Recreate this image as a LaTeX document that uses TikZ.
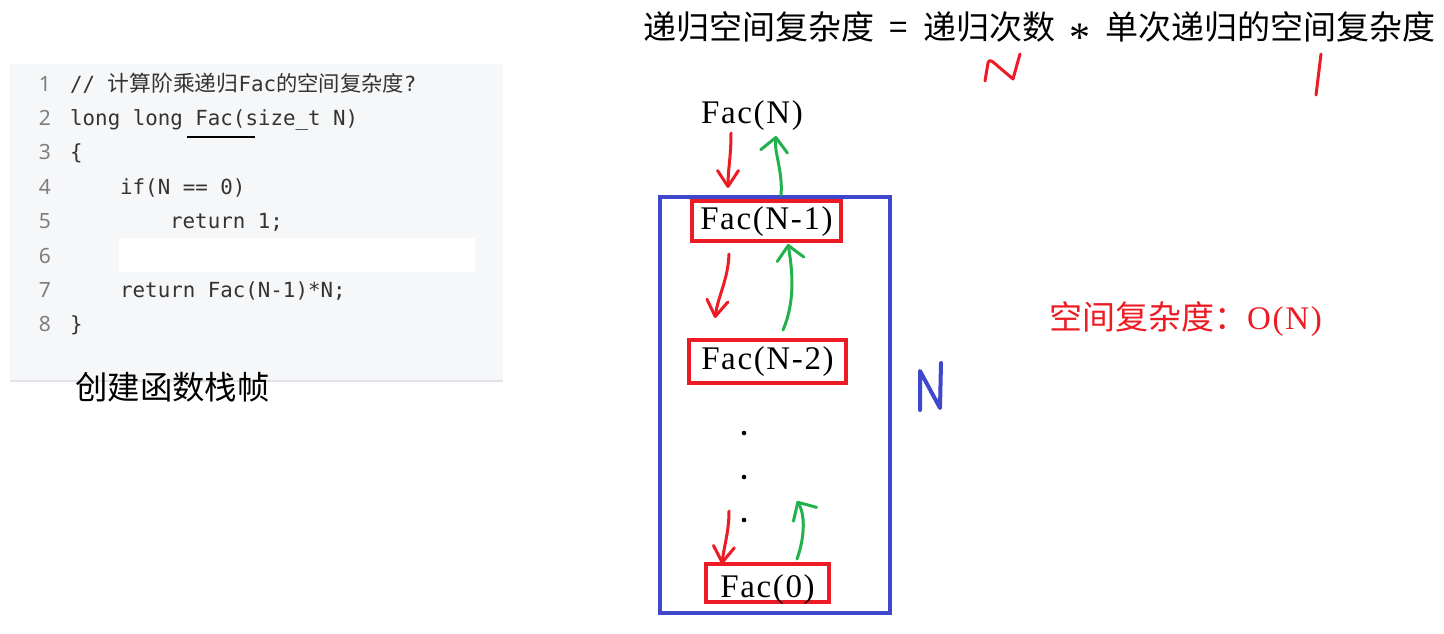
\documentclass[tikz,border=0pt]{standalone}
\usepackage{fontspec}
\usetikzlibrary{arrows.meta,calc}
\setmainfont{Liberation Serif}
\setmonofont{DejaVu Sans Mono}
\newfontfamily\lnumfont{Noto Sans}
\newfontfamily\cjksans{Noto Sans CJK SC}
\newfontfamily\cjkserif{Noto Sans CJK SC}
\newfontfamily\spacedserif[LetterSpace=5]{Liberation Serif}
\definecolor{mspred}{RGB}{237,28,36}
\definecolor{mspgreen}{RGB}{34,177,76}
\definecolor{mspblue}{RGB}{63,72,204}
\definecolor{codebg}{RGB}{246,247,249}
\definecolor{codeline}{RGB}{226,227,231}
\definecolor{lnumcol}{RGB}{125,125,125}
\definecolor{codetxt}{RGB}{51,51,51}
\begin{document}
\begin{tikzpicture}[x=1pt,y=-1pt,
  lnum/.style={anchor=base, inner sep=0pt, font=\lnumfont\fontsize{21}{24}\selectfont, text=lnumcol},
  code/.style={anchor=base west, inner sep=0pt, font=\ttfamily\fontsize{20.8}{24}\selectfont, text=codetxt},
  bigcjk/.style={anchor=base west, inner sep=0pt, font=\cjkserif\fontsize{33}{40}\selectfont},
  factext/.style={inner sep=0pt, font=\spacedserif\fontsize{33}{40}\selectfont, text height=22pt, text depth=6pt},
  redbox/.style={factext, draw=mspred, line width=4pt},
  bluebox/.style={draw=mspblue, line width=4pt, inner sep=0pt},
  redpen/.style={draw=mspred, line width=3pt, line cap=round, line join=round},
  greenpen/.style={draw=mspgreen, line width=3pt, line cap=round, line join=round},
  bluepen/.style={draw=mspblue, line width=4pt, line cap=round, line join=round},
  redarr/.style={redpen, -{Straight Barb[length=16pt,width=21pt,round]}},
  greenarr/.style={greenpen, -{Straight Barb[length=14pt,width=27pt,round]}},
  dotmark/.style={fill=black}
]
\fill[white] (0,0) rectangle (1444,633);
\useasboundingbox (0,0) rectangle (1444,633);

% ---------- code block ----------
\fill[codebg] (10,64) rectangle (503,381);
\draw[codeline, line width=1.5pt] (10,381) -- (503,381);
\fill[white] (119,238) rectangle (475,272);

\node[lnum] (n1) at (45,91.0) {1};
\node[lnum] (n2) at (45,125.4) {2};
\node[lnum] (n3) at (45,159.8) {3};
\node[lnum] (n4) at (45,194.2) {4};
\node[lnum] (n5) at (45,228.6) {5};
\node[lnum] (n6) at (45,263.0) {6};
\node[lnum] (n7) at (45,297.4) {7};
\node[lnum] (n8) at (45,331.8) {8};

\node[code] (c1) at (70,91.0) {// {\cjksans\fontsize{21.8}{24}\selectfont 计算阶乘递归}Fac{\cjksans\fontsize{21.3}{24}\selectfont 的空间复杂度}?};
\node[code] (c2) at (70,125.4) {long long Fac(size\_t N)};
\node[code] (c3) at (70,159.8) {\{};
\node[code] (c4) at (120,194.2) {if(N == 0)};
\node[code] (c5) at (170,228.6) {return 1;};
\node[code] (c7) at (120,297.4) {return Fac(N-1)*N;};
\node[code] (c8) at (70,331.8) {\}};
\draw[black, line width=2.6pt] (187,137) -- (255,137);

\node[bigcjk, font=\cjkserif\fontsize{32.4}{40}\selectfont] (frame) at (75,399) {创建函数栈帧};

% ---------- formula ----------
\node[bigcjk] (formula) at (643,39) {递归空间复杂度\hbox to 1.5em{\hss=\hss}递归次数\hbox to 1.5em{\hss{\rmfamily\fontsize{42}{42}\selectfont\raisebox{-0.29em}{*}}\hss}单次递归的空间复杂度};
% hand-written N under 递归次数
\draw[redpen] (985,81) -- (988,63) .. controls (989,60) and (991,60) .. (993,62) -- (1013,79) -- (1020,54);
% hand-written 1
\draw[redpen] (1321,54) -- (1316,95);

% ---------- recursion stack ----------
\node[bluebox, minimum width=230pt, minimum height=416pt] (stack) at (775,405) {};
\node[factext] (facN) at (752,115.5) {Fac(N)};
\node[redbox, minimum width=149pt, minimum height=40pt] (facN1) at (766.5,221) {Fac(N-1)};
\node[redbox, minimum width=157pt, minimum height=43pt] (facN2) at (767.5,361.5) {Fac(N-2)};
\node[redbox, minimum width=123pt, minimum height=38pt, text height=29pt, text depth=0pt] (fac0) at (767.5,583) {Fac(0)};

\fill[dotmark] (744,433) circle[radius=2.3pt];
\fill[dotmark] (744,477) circle[radius=2.3pt];
\fill[dotmark] (744,520) circle[radius=2.3pt];

% calls (red) and returns (green)
\coordinate (r1s) at (731,133);
\coordinate (r1e) at (728,188);
\draw[redarr] (r1s) .. controls (731,158) and (728,168) .. (r1e);

\coordinate (g1s) at (781,195);
\coordinate (g1e) at (776,136);
\draw[greenarr] (g1s) .. controls (783,172) and (774,152) .. (g1e);

\coordinate (r2s) at (729,254);
\coordinate (r2e) at (715,318);
\draw[redarr] (r2s) .. controls (728,280) and (718,296) .. (r2e);

\coordinate (g2s) at (783,330);
\coordinate (g2e) at (788,244);
\draw[greenarr] (g2s) .. controls (796,300) and (792,268) .. (g2e);

\coordinate (r3s) at (729,511);
\coordinate (r3e) at (722,564);
\draw[redarr] (r3s) .. controls (729,532) and (724,546) .. (r3e);

\coordinate (g3s) at (797,559);
\coordinate (g3e) at (797,501);
\draw[greenarr] (g3s) .. controls (804,540) and (806,516) .. (g3e);

% N beside the stack
\draw[bluepen] (920,410) -- (920,371) -- (940,408) -- (941,363);

% result
\node[bigcjk, text=mspred] (result) at (1049,329) {空间复杂度：{\spacedserif O(N)}};
\end{tikzpicture}
\end{document}
